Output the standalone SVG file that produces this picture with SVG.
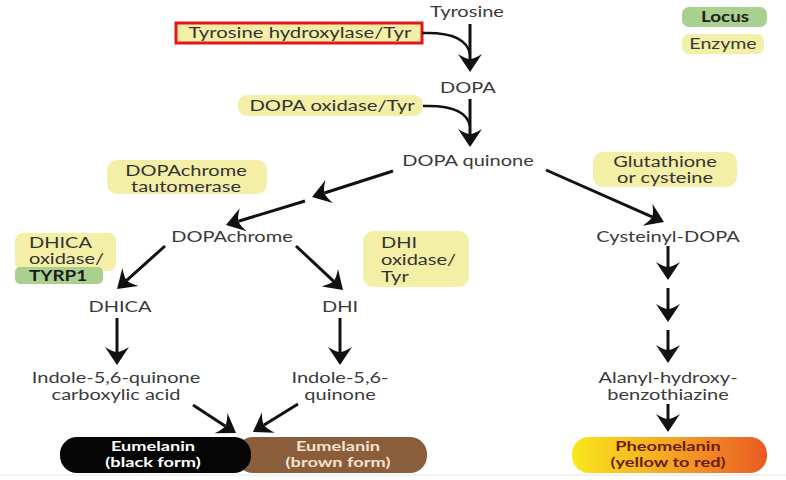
<svg xmlns="http://www.w3.org/2000/svg" width="786" height="480" viewBox="0 0 786 480">
<style>
text{font-family:Lato,"Open Sans","Liberation Sans",sans-serif;font-size:14.5px;fill:#3a3a3a;text-anchor:middle}
.l{text-anchor:start}
.b{font-weight:bold}
.y{fill:#f3efa6}
.g{fill:#a9d08e}
.e{fill:#333}
.ln{fill:none;stroke:#111;stroke-width:3;marker-end:url(#ah)}
.cv{fill:none;stroke:#111;stroke-width:2.5}
.p{font-size:13px;font-weight:bold}
.w{fill:#ffffff}
.bw{fill:#f5e3cf}
.ph{fill:#6b1d00}
</style>
<defs>
<marker id="ah" markerUnits="userSpaceOnUse" viewBox="-1 -13 20 26" refX="5" refY="0" markerWidth="20" markerHeight="26" orient="auto">
<path d="M18,0 L0,-12 Q5,-4 5,0 Q5,4 0,12 Z" fill="#111"/>
</marker>
<linearGradient id="pg" x1="0" y1="0" x2="1" y2="0">
<stop offset="0" stop-color="#f7e81a"/>
<stop offset="0.5" stop-color="#f5a623"/>
<stop offset="1" stop-color="#ea5a24"/>
</linearGradient>
</defs>
<rect width="786" height="480" fill="#fff"/>
<line x1="0" y1="475" x2="786" y2="475" stroke="#e4e4e4" stroke-width="1"/>

<g id="legend">
<rect class="g" x="682" y="7" width="85" height="20" rx="7"/>
<text class="b" transform="translate(725 22) scale(1.3 1)" style="fill:#222">Locus</text>
<rect class="y" x="682" y="34" width="82" height="20" rx="7"/>
<text transform="translate(723 49) scale(1.35 1)">Enzyme</text>
</g>

<g id="tyrosine"><text transform="translate(467 17) scale(1.38 1)">Tyrosine</text></g>
<g id="enz-tyrosine-hydroxylase">
<rect class="y" x="176" y="23" width="246" height="20"/>
<rect x="176" y="23" width="246" height="20" fill="none" stroke="#e8141b" stroke-width="3"/>
<text class="e" transform="translate(300 38) scale(1.4 1)">Tyrosine hydroxylase/Tyr</text>
</g>
<g id="dopa"><text transform="translate(468 93) scale(1.38 1)">DOPA</text></g>
<g id="enz-dopa-oxidase">
<rect class="y" x="238" y="95" width="185" height="21" rx="9"/>
<text class="e" transform="translate(332 111) scale(1.4 1)">DOPA oxidase/Tyr</text>
</g>
<g id="dopa-quinone"><text transform="translate(468 166) scale(1.38 1)">DOPA quinone</text></g>
<g id="enz-dopachrome-tautomerase">
<rect class="y" x="107" y="160" width="160" height="34" rx="10"/>
<text class="e" transform="translate(186 176) scale(1.38 1)">DOPAchrome</text>
<text class="e" transform="translate(186 192) scale(1.38 1)">tautomerase</text>
</g>
<g id="enz-glutathione">
<rect class="y" x="593" y="152" width="144" height="35" rx="10"/>
<text class="e" transform="translate(665 167) scale(1.38 1)">Glutathione</text>
<text class="e" transform="translate(665 183) scale(1.38 1)">or cysteine</text>
</g>
<g id="dopachrome"><text transform="translate(232 242) scale(1.38 1)">DOPAchrome</text></g>
<g id="cysteinyl-dopa"><text transform="translate(668 242) scale(1.38 1)">Cysteinyl-DOPA</text></g>
<g id="enz-dhica-oxidase">
<rect class="y" x="15" y="233" width="101" height="38" rx="8"/>
<rect class="g" x="15" y="267" width="88" height="17" rx="5"/>
<text class="l e" transform="translate(29 248) scale(1.38 1)">DHICA</text>
<text class="l e" transform="translate(29 264) scale(1.38 1)">oxidase/</text>
<text class="l b" transform="translate(29 281) scale(1.3 1)" style="fill:#1a1a1a">TYRP1</text>
</g>
<g id="enz-dhi-oxidase">
<rect class="y" x="363" y="231" width="106" height="56" rx="10"/>
<text class="l e" transform="translate(381 248) scale(1.38 1)">DHI</text>
<text class="l e" transform="translate(381 265) scale(1.38 1)">oxidase/</text>
<text class="l e" transform="translate(381 282) scale(1.38 1)">Tyr</text>
</g>
<g id="dhica"><text transform="translate(120 312) scale(1.38 1)">DHICA</text></g>
<g id="dhi"><text transform="translate(340 312) scale(1.38 1)">DHI</text></g>
<g id="indole-quinone-carboxylic">
<text transform="translate(116 383) scale(1.38 1)">Indole-5,6-quinone</text>
<text transform="translate(116 400) scale(1.38 1)">carboxylic acid</text>
</g>
<g id="indole-quinone">
<text transform="translate(340 383) scale(1.38 1)">Indole-5,6-</text>
<text transform="translate(340 400) scale(1.38 1)">quinone</text>
</g>
<g id="alanyl">
<text transform="translate(668 383) scale(1.38 1)">Alanyl-hydroxy-</text>
<text transform="translate(668 400) scale(1.38 1)">benzothiazine</text>
</g>
<g id="eumelanin-brown">
<rect x="236" y="437" width="191" height="36" rx="17" fill="#8a5d3b"/>
<text class="p bw" transform="translate(338 451) scale(1.4 1)">Eumelanin</text>
<text class="p bw" transform="translate(338 467) scale(1.4 1)">(brown form)</text>
</g>
<g id="eumelanin-black">
<rect x="60" y="437" width="191" height="36" rx="17" fill="#050505"/>
<text class="p w" transform="translate(153 451) scale(1.4 1)">Eumelanin</text>
<text class="p w" transform="translate(153 467) scale(1.4 1)">(black form)</text>
</g>
<g id="pheomelanin">
<rect x="572" y="437" width="195" height="36" rx="17" fill="url(#pg)"/>
<text class="p ph" transform="translate(668 451) scale(1.4 1)">Pheomelanin</text>
<text class="p ph" transform="translate(668 467) scale(1.4 1)">(yellow to red)</text>
</g>

<g id="connectors">
<path class="cv" d="M422,33 C450,32 467,38 470,54"/>
<path class="cv" d="M423,106 C450,105 467,111 470,126"/>
<line class="ln" x1="470" y1="24" x2="470" y2="59"/>
<line class="ln" x1="470" y1="99" x2="470" y2="134"/>
<line class="ln" x1="393" y1="171" x2="324.4" y2="193"/>
<line class="ln" x1="305" y1="201" x2="238.4" y2="221.2"/>
<line class="ln" x1="546" y1="170" x2="652.1" y2="216.8"/>
<line class="ln" x1="165" y1="246" x2="126.7" y2="280.3"/>
<line class="ln" x1="296" y1="246" x2="333.5" y2="281.1"/>
<line class="ln" x1="117" y1="318" x2="117" y2="352"/>
<line class="ln" x1="340" y1="318" x2="340" y2="352"/>
<line class="ln" x1="193" y1="405" x2="225.1" y2="425.9"/>
<line class="ln" x1="298" y1="404" x2="264" y2="425.1"/>
<line class="ln" x1="668" y1="246" x2="668" y2="267"/>
<line class="ln" x1="668" y1="288" x2="668" y2="309"/>
<line class="ln" x1="668" y1="330" x2="668" y2="350"/>
<line class="ln" x1="668" y1="404" x2="668" y2="419"/>
</g>
</svg>
